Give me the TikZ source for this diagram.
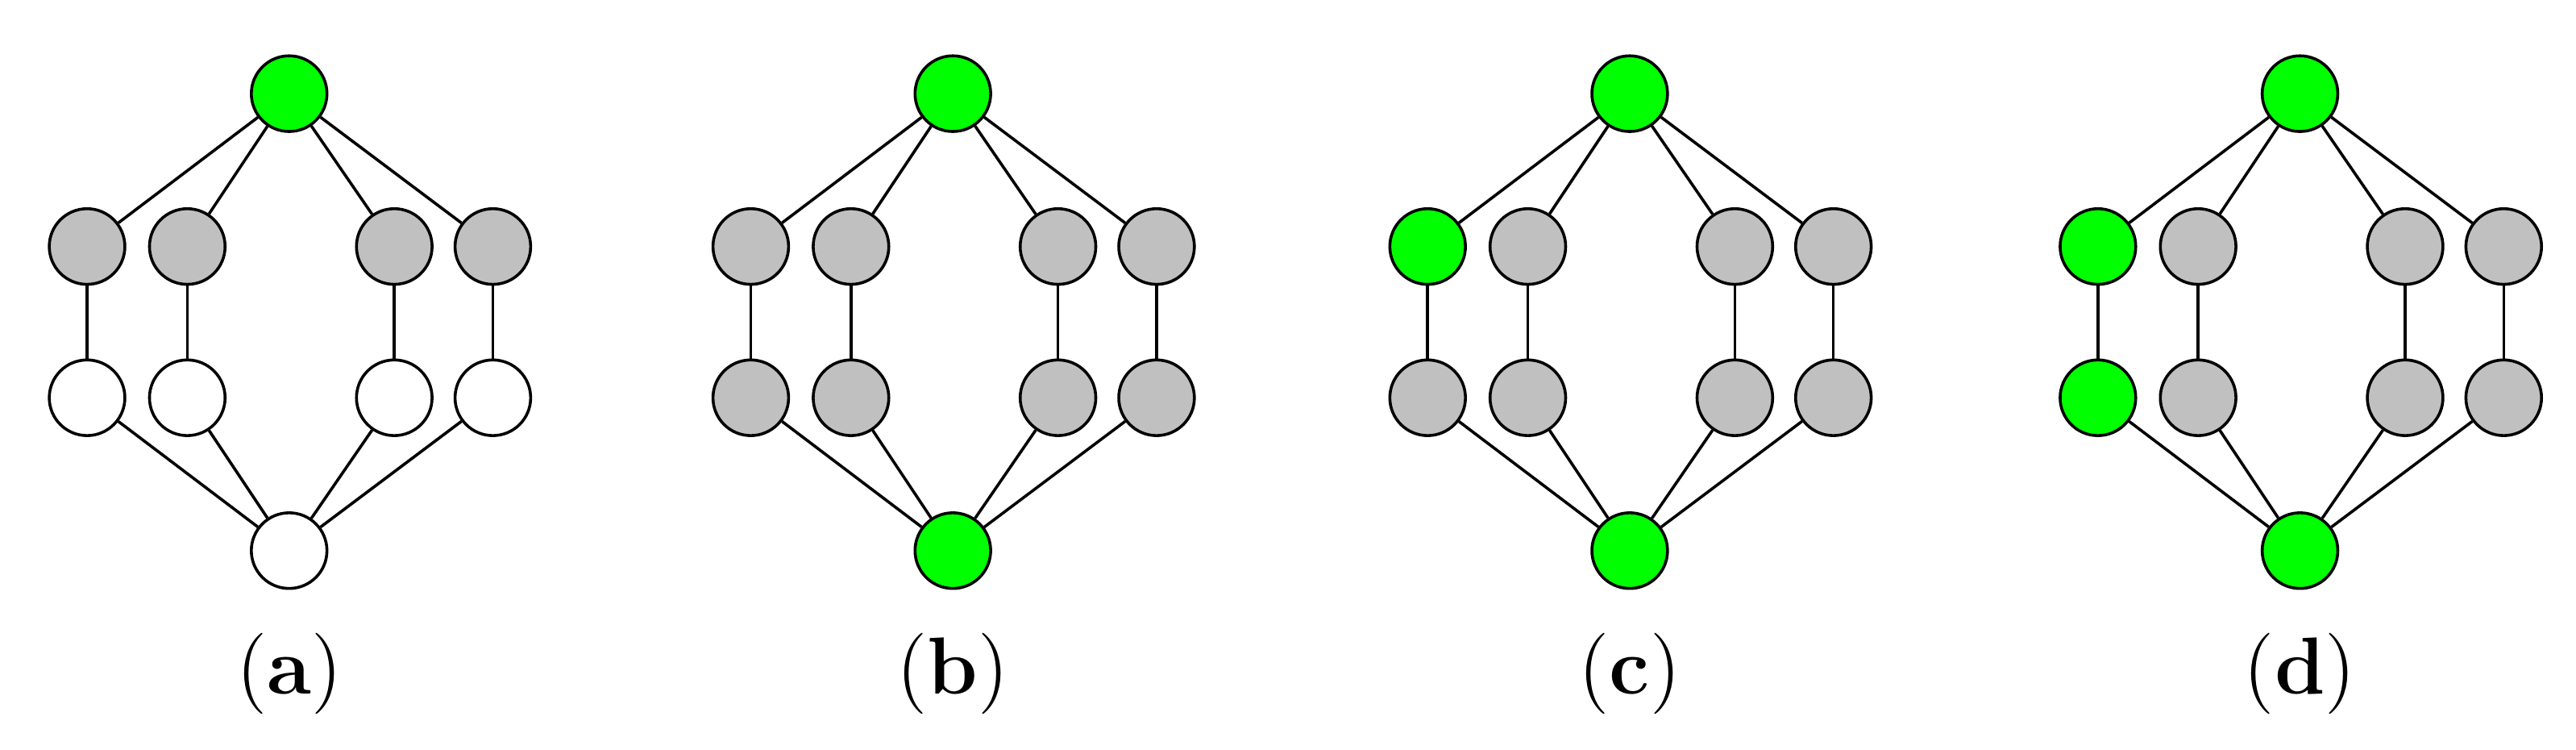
\documentclass[tikz,border=0pt]{standalone}
\begin{document}
\begin{tikzpicture}[x=0.01cm,y=-0.01cm,
  v/.style={circle,draw=black,line width=0.5pt,minimum size=0.46cm,inner sep=0pt},
  g/.style={v,fill={rgb,255:red,0;green,255;blue,0}},
  s/.style={v,fill={rgb,255:red,192;green,192;blue,192}},
  w/.style={v,fill=white},
  e/.style={line width=0.5pt},
  lab/.style={font=\fontsize{14}{16}\selectfont}]
\useasboundingbox (0,0) rectangle (1568,456);
\foreach \p/\ox/\ca/\cb/\cc/\cd/\ce/\cf/\cg/\ch/\bot/\L in {
  a/0/s/s/s/s/w/w/w/w/w/a,
  b/404/s/s/s/s/s/s/s/s/g/b,
  c/816/g/s/s/s/s/s/s/s/g/c,
  d/1224/g/s/s/s/g/s/s/s/g/d}{
  \begin{scope}[xshift=\ox*0.01cm]
  \node[g] (\p t) at (176,57) {};
  \node[\ca] (\p r1) at (53,150) {};
  \node[\cb] (\p r2) at (114,150) {};
  \node[\cc] (\p r3) at (240,150) {};
  \node[\cd] (\p r4) at (300,150) {};
  \node[\ce] (\p s1) at (53,242) {};
  \node[\cf] (\p s2) at (114,242) {};
  \node[\cg] (\p s3) at (240,242) {};
  \node[\ch] (\p s4) at (300,242) {};
  \node[\bot] (\p b) at (176,335) {};
  \foreach \i in {1,2,3,4}{
    \draw[e] (\p t) -- (\p r\i);
    \draw[e] (\p r\i) -- (\p s\i);
    \draw[e] (\p s\i) -- (\p b);}
  \node[lab] (\p l) at (176,410) {(\textbf{\L})};
  \end{scope}}
\end{tikzpicture}
\end{document}
